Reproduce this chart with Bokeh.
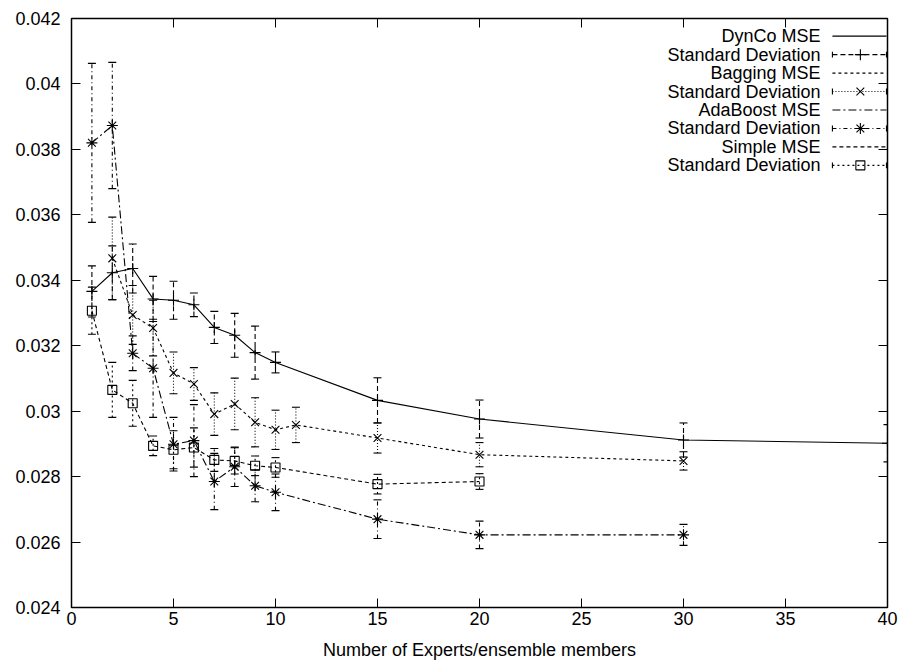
from bokeh.plotting import figure
from bokeh.models import LinearAxis, FixedTicker, CustomJSTickFormatter, Range1d
from bokeh.core.properties import value
from bokeh.embed import file_html
from bokeh.resources import INLINE

# ---------------- data ----------------
x_ticks = [0, 5, 10, 15, 20, 25, 30, 35, 40]
y_ticks = [0.024, 0.026, 0.028, 0.030, 0.032, 0.034, 0.036, 0.038, 0.040, 0.042]
x_title = "Number of Experts/ensemble members"

legend_labels = ["DynCo MSE", "Standard Deviation", "Bagging MSE", "Standard Deviation",
                 "AdaBoost MSE", "Standard Deviation", "Simple MSE", "Standard Deviation"]

x_dynco = [1, 2, 3, 4, 5, 6, 7, 8, 9, 10, 15, 20, 30, 40]
mse_dynco = [0.03366, 0.03423, 0.03436, 0.03343, 0.03339, 0.03325, 0.03256, 0.03232,
             0.03179, 0.03149, 0.03033, 0.02976, 0.02912, 0.02902]
std_dynco = [0.00078, 0.00082, 0.00075, 0.00069, 0.00058, 0.00036, 0.00049, 0.00067,
             0.00081, 0.00032, 0.00069, 0.00058, 0.00052, 0.00057]

x_bag = [2, 3, 4, 5, 6, 7, 8, 9, 10, 11, 15, 20, 30]
mse_bag = [0.03467, 0.03294, 0.03254, 0.03117, 0.03083, 0.02991, 0.03022, 0.02966,
           0.02943, 0.02958, 0.02918, 0.02867, 0.02848]
std_bag = [0.00126, 0.00090, 0.00085, 0.00064, 0.00050, 0.00065, 0.00079, 0.00075,
           0.00060, 0.00054, 0.00046, 0.00037, 0.00028]

x_ada = [1, 2, 3, 4, 5, 6, 7, 8, 9, 10, 15, 20, 30]
mse_ada = [0.03820, 0.03873, 0.03177, 0.03131, 0.02899, 0.02910, 0.02785, 0.02830,
           0.02772, 0.02752, 0.02670, 0.02622, 0.02622]
std_ada = [0.00243, 0.00193, 0.00053, 0.00150, 0.00082, 0.00110, 0.00086, 0.00060,
           0.00049, 0.00056, 0.00059, 0.00042, 0.00032]

x_simple = [1, 2, 3, 4, 5, 6, 7, 8, 9, 10, 15, 20]
mse_simple = [0.03307, 0.03065, 0.03024, 0.02894, 0.02882, 0.02889, 0.02851, 0.02848,
              0.02833, 0.02828, 0.02777, 0.02785]
std_simple = [0.00072, 0.00084, 0.00070, 0.00030, 0.00058, 0.00060, 0.00035, 0.00040,
              0.00030, 0.00030, 0.00030, 0.00024]

# ---------------- styles ----------------
FONT = "Liberation Sans"
FS = "18px"
series = [
    # x, mse, std, line dash, bar dash, marker, marker size
    (x_dynco, mse_dynco, std_dynco, "solid", "5 3", "cross", 11),
    (x_bag, mse_bag, std_bag, "3 3", "1 2", "x", 11),
    (x_ada, mse_ada, std_ada, "8 3 2 3", "4 3 1 3", "asterisk", 11),
    (x_simple, mse_simple, std_simple, "4 3", "2 3", "square", 9),
]

p = figure(width=907, height=666, x_range=Range1d(0, 40), y_range=Range1d(0.024, 0.042),
           output_backend="svg", toolbar_location=None,
           min_border_left=71, min_border_right=20, min_border_top=18, min_border_bottom=59)
p.grid.visible = False
p.outline_line_color = "black"
p.outline_line_width = 1.5
p.background_fill_color = "white"
p.border_fill_color = "white"

for ax in (p.xaxis[0], p.yaxis[0]):
    ax.axis_line_color = None
    ax.major_tick_in = 9
    ax.major_tick_out = 0
    ax.major_tick_line_width = 1
    ax.minor_tick_line_color = None
    ax.major_label_text_font = FONT
    ax.major_label_text_font_size = FS
    ax.major_label_text_color = "black"

p.xaxis[0].ticker = FixedTicker(ticks=x_ticks)
p.xaxis[0].major_label_standoff = 4
p.xaxis[0].axis_label = x_title
p.xaxis[0].axis_label_text_font = FONT
p.xaxis[0].axis_label_text_font_size = FS
p.xaxis[0].axis_label_text_font_style = "normal"
p.xaxis[0].axis_label_standoff = 12
p.xaxis[0].axis_label_text_color = "black"

p.yaxis[0].ticker = FixedTicker(ticks=y_ticks)
p.yaxis[0].major_label_standoff = 11
p.yaxis[0].formatter = CustomJSTickFormatter(code="return String(Number(tick.toFixed(3)));")

blank = CustomJSTickFormatter(code="return '';")
top = LinearAxis(ticker=FixedTicker(ticks=x_ticks), formatter=blank, axis_line_color=None,
                 major_tick_in=9, major_tick_out=0, minor_tick_line_color=None,
                 major_label_standoff=0)
right = LinearAxis(ticker=FixedTicker(ticks=y_ticks), formatter=blank, axis_line_color=None,
                   major_tick_in=9, major_tick_out=0, minor_tick_line_color=None,
                   major_label_standoff=0)
p.add_layout(top, "above")
p.add_layout(right, "right")

for xs, ys, sd, ldash, bdash, mk, ms in series:
    lo = [y - s for y, s in zip(ys, sd)]
    hi = [y + s for y, s in zip(ys, sd)]
    p.line(xs, ys, line_color="black", line_width=1.1, line_dash=ldash)
    p.segment(x0=xs, y0=lo, x1=xs, y1=hi, line_color="black", line_width=1.1, line_dash=bdash)
    p.scatter(xs, lo, marker="dash", size=8, line_color="black", line_width=1.1)
    p.scatter(xs, hi, marker="dash", size=8, line_color="black", line_width=1.1)
    p.scatter(xs, ys, marker=mk, size=ms, line_color="black", fill_color=None, line_width=1.1)

# ---------------- legend (top right, gnuplot style) ----------------
LEG_TEXT_X = 36.72
LEG_S0, LEG_S1, LEG_MID = 37.3, 39.95, 38.67
LEG_Y0 = 0.04146
LEG_DY = 0.000564
CAP = 0.00009

rows_y = [LEG_Y0 - i * LEG_DY for i in range(len(legend_labels))]
p.text(x=[LEG_TEXT_X] * len(legend_labels), y=rows_y, text=legend_labels,
       text_align="right", text_baseline="middle", text_font=value(FONT),
       text_font_size=FS, text_color="black")

for i, (xs, ys, sd, ldash, bdash, mk, ms) in enumerate(series):
    ym = rows_y[2 * i]
    ys_ = rows_y[2 * i + 1]
    p.line([LEG_S0, LEG_S1], [ym, ym], line_color="black", line_width=1.1, line_dash=ldash)
    p.line([LEG_S0, LEG_S1], [ys_, ys_], line_color="black", line_width=1.1, line_dash=bdash)
    p.segment(x0=[LEG_S0, LEG_S1], y0=[ys_ - CAP] * 2, x1=[LEG_S0, LEG_S1], y1=[ys_ + CAP] * 2,
              line_color="black", line_width=1.1)
    p.scatter([LEG_MID], [ys_], marker=mk, size=ms, line_color="black", fill_color=None,
              line_width=1.1)

open("out.html", "w").write(file_html(p, INLINE))
